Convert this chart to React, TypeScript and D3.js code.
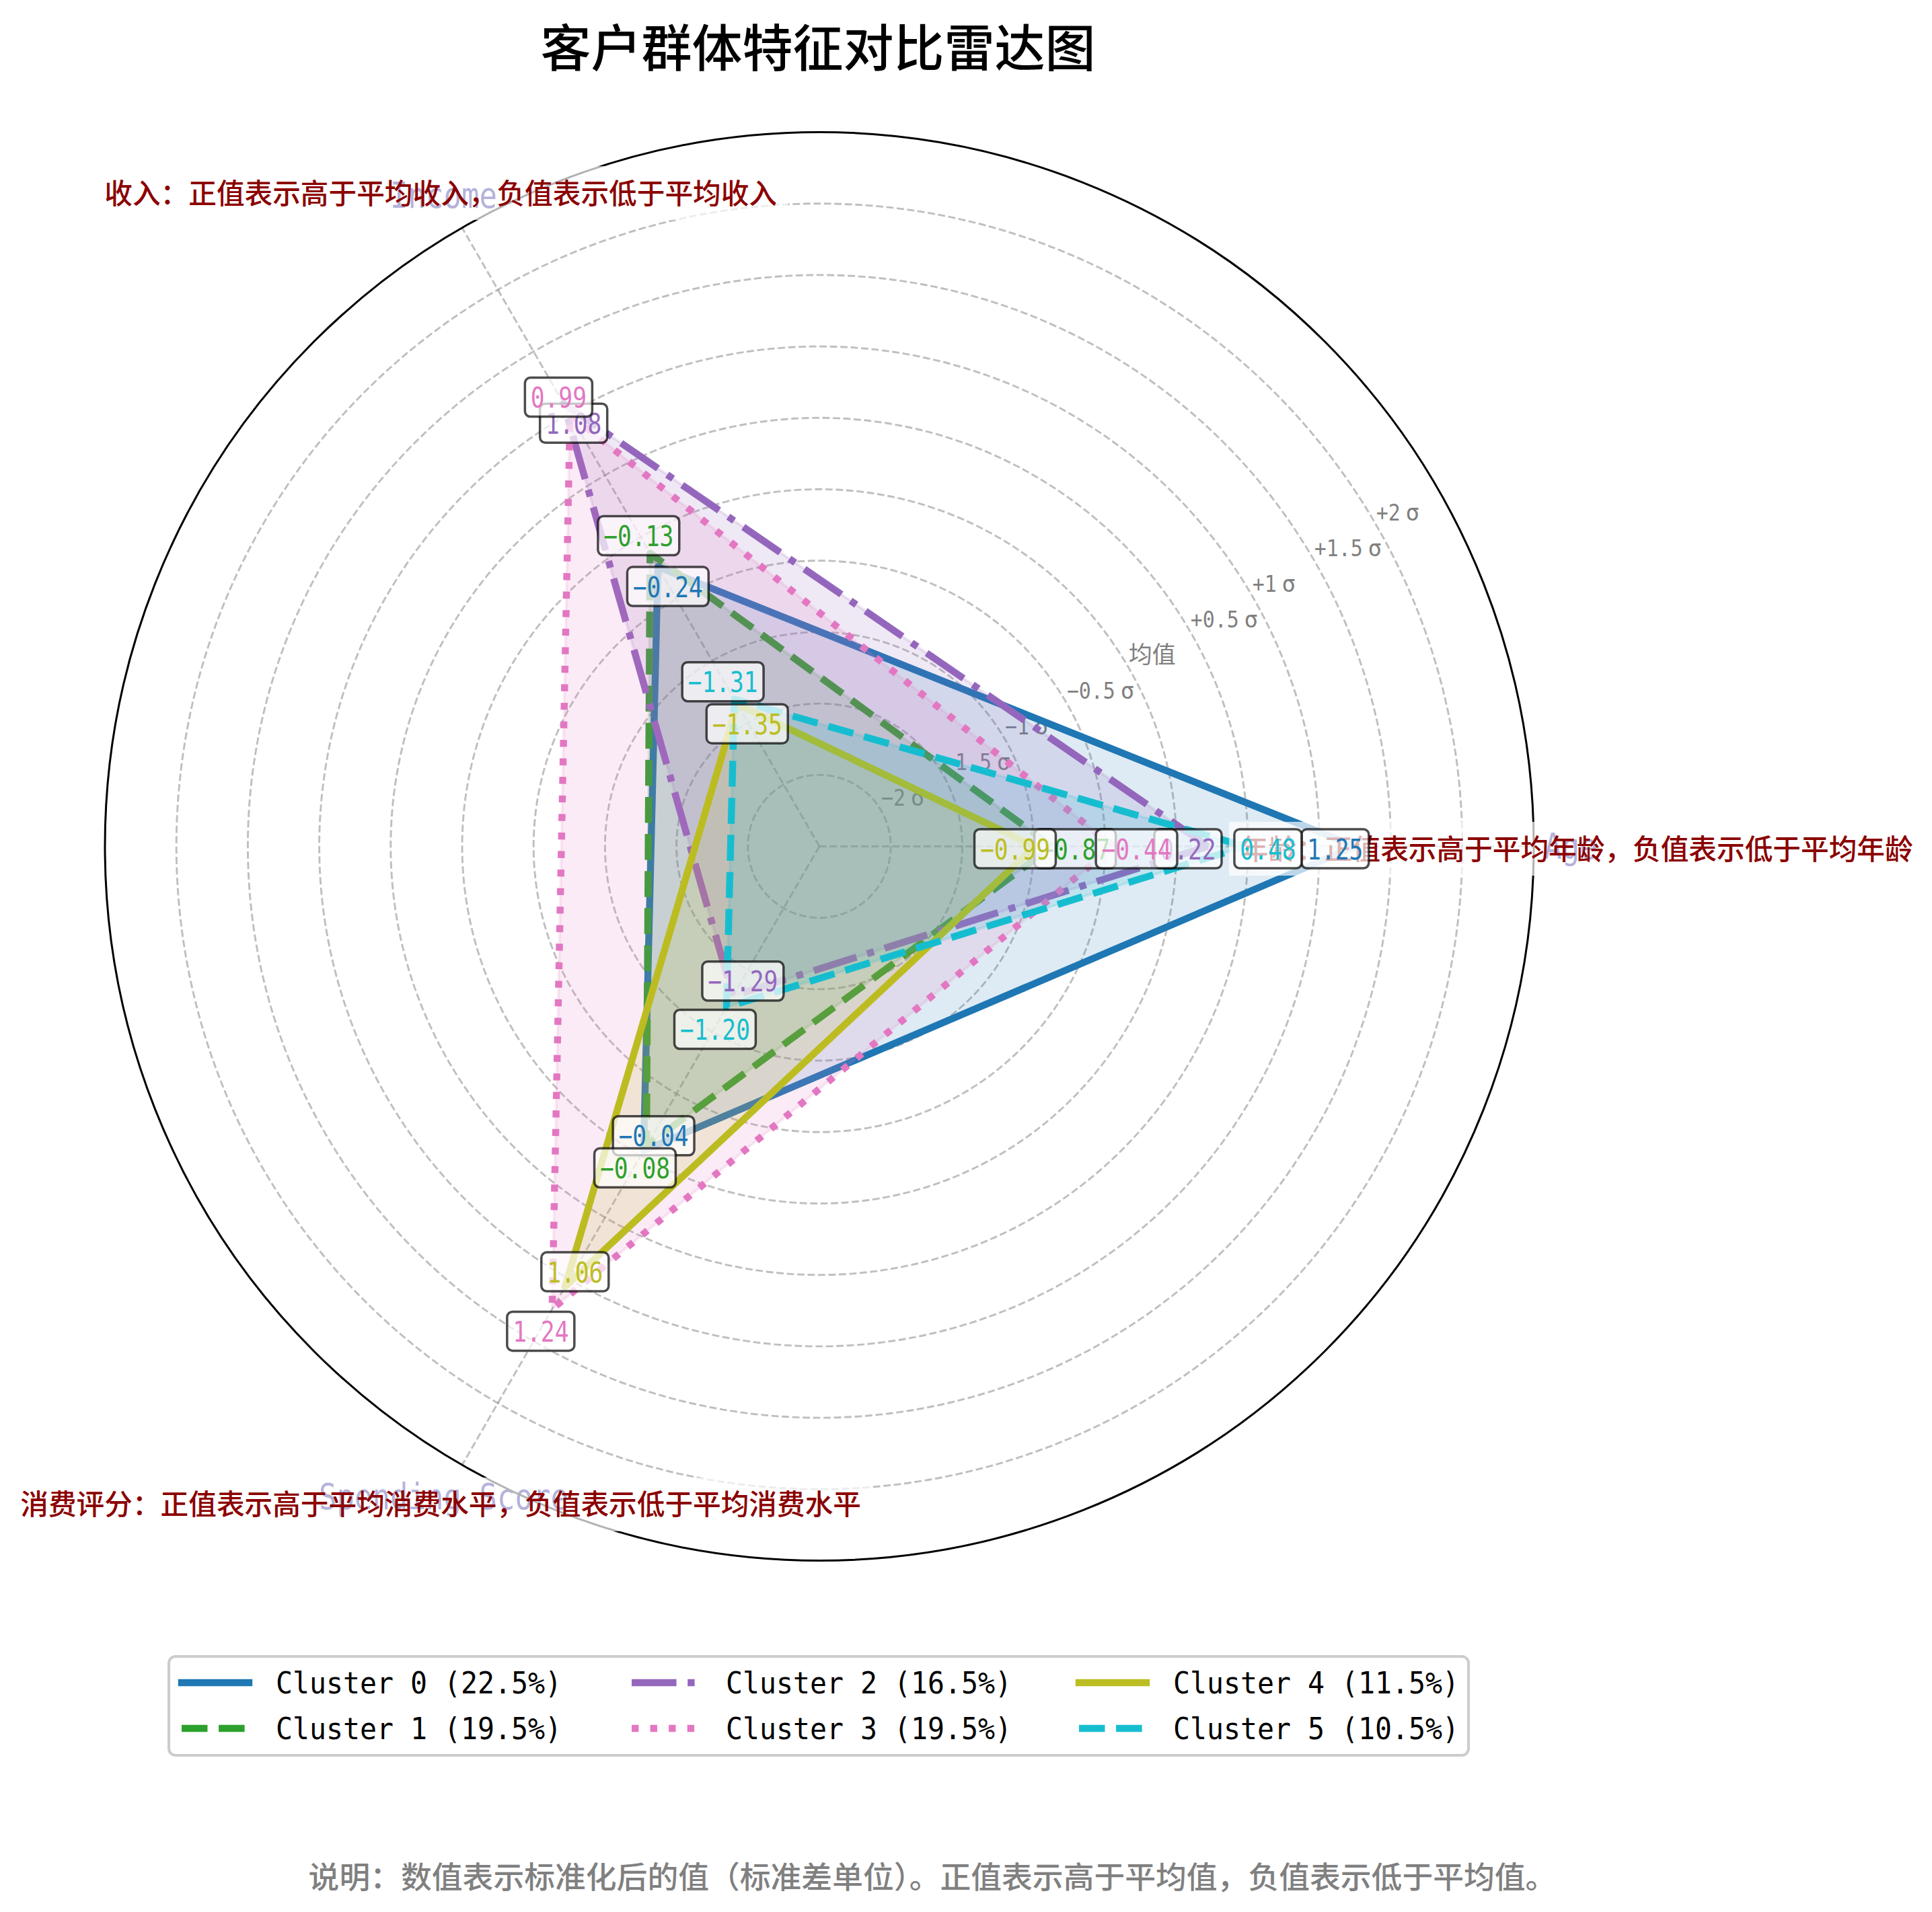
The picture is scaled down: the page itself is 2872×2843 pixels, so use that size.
import React from 'react';
import * as d3 from 'd3';

// ---------- data ----------
const categories = ['Age', 'Income', 'Spending Score'];
const categoryNotes = [
  '年龄：正值表示高于平均年龄，负值表示低于平均年龄',
  '收入：正值表示高于平均收入，负值表示低于平均收入',
  '消费评分：正值表示高于平均消费水平，负值表示低于平均消费水平',
];
const categoryAngles = [0, 120, 240];
const clusterNames = ['Cluster 0', 'Cluster 1', 'Cluster 2', 'Cluster 3', 'Cluster 4', 'Cluster 5'];
const clusterShares = [22.5, 19.5, 16.5, 19.5, 11.5, 10.5];
// values in order: Age, Income, Spending Score
const cluster0 = [1.25, -0.24, -0.04];
const cluster1 = [-0.87, -0.13, -0.08];
const cluster2 = [0.22, 1.08, -1.29];
const cluster3 = [-0.44, 0.99, 1.24];
const cluster4 = [-0.99, -1.35, 1.06];
const cluster5 = [0.48, -1.31, -1.2];
const clusterValues = [cluster0, cluster1, cluster2, cluster3, cluster4, cluster5];
const radialTicks = [-2, -1.5, -1, -0.5, 0, 0.5, 1, 1.5, 2];
const radialTickLabels = ['−2σ', '−1.5σ', '−1σ', '−0.5σ', '均值', '+0.5σ', '+1σ', '+1.5σ', '+2σ'];
const titleText = '客户群体特征对比雷达图';
const footerText = '说明：数值表示标准化后的值（标准差单位）。正值表示高于平均值，负值表示低于平均值。';

// ---------- style ----------
const W = 2872;
const H = 2843;
const CX = 1218;
const CY = 1258.5;
const R = 1062;
const COLORS = ['#1f77b4', '#2ca02c', '#9467bd', '#e377c2', '#bcbd22', '#17becf'];
const LW = 10.4;
const DASHES = [
  null,
  `${3.7 * LW} ${1.6 * LW}`,
  `${6.4 * LW} ${1.6 * LW} ${1 * LW} ${1.6 * LW}`,
  `${1 * LW} ${1.65 * LW}`,
  null,
  `${3.7 * LW} ${1.6 * LW}`,
];
const CJK = '"Noto Sans CJK SC", "Noto Sans CJK JP", sans-serif';
const MONO = '"DejaVu Sans Mono", "Liberation Mono", monospace';

const rScale = d3.scaleLinear().domain([-2.5, 2.5]).range([0, R]);

function pt(angleDeg: number, v: number): [number, number] {
  const r = rScale(v);
  const a = (angleDeg * Math.PI) / 180;
  return [CX + r * Math.cos(a), CY - r * Math.sin(a)];
}

function fmt(v: number) {
  const s = Math.abs(v).toFixed(2);
  return v < 0 ? '−' + s : s;
}

export default function App() {
  const line = d3.line();

  // grid
  const gridCircles = radialTicks.map((t, i) => (
    <circle key={'gc' + i} cx={CX} cy={CY} r={rScale(t)} fill="none"
      stroke="rgba(128,128,128,0.5)" strokeWidth={2.9} strokeDasharray="10.8 4.7" />
  ));
  const gridSpokes = categoryAngles.map((a, i) => {
    const [x, y] = pt(a, 2.5);
    return (
      <line key={'gs' + i} x1={CX} y1={CY} x2={x} y2={y}
        stroke="rgba(128,128,128,0.5)" strokeWidth={2.9} strokeDasharray="10.8 4.7" />
    );
  });

  // sigma tick labels
  const HALF = 18;
  const sigmaLabels = radialTicks.map((t, i) => {
    const r = rScale(t);
    const a = (30 * Math.PI) / 180;
    const x = CX + r * Math.cos(a);
    const y = CY - r * Math.sin(a) - 7;
    const lab = radialTickLabels[i];
    if (!lab.includes('σ')) {
      return (
        <text key={'sl' + i} x={x} y={y} fontFamily={CJK} fontSize={35} fill="#808080">{lab}</text>
      );
    }
    const num = lab.replace('σ', '');
    const n = num.length;
    return (
      <g key={'sl' + i} fill="#808080">
        <text x={x} y={y} fontFamily={MONO} fontSize={34} textLength={n * HALF} lengthAdjust="spacingAndGlyphs">{num}</text>
        <text x={x + n * HALF + HALF} y={y} fontFamily={MONO} fontSize={34} textAnchor="middle">σ</text>
      </g>
    );
  });

  // category tick labels (under annotation boxes)
  const catLabels = categories.map((c, i) => {
    const a = (categoryAngles[i] * Math.PI) / 180;
    const r = R + 55;
    const x = CX + r * Math.cos(a);
    const y = CY - r * Math.sin(a);
    return (
      <text key={'cl' + i} x={x} y={y + 18} textAnchor="middle" fontFamily={MONO} fontSize={54}
        fill="#00008b" textLength={c.length * 26.5} lengthAdjust="spacingAndGlyphs">{c}</text>
    );
  });

  // polygons
  const polys = clusterValues.map((vals, ci) => {
    const pts = vals.map((v, k) => pt(categoryAngles[k], v));
    const closed = [...pts, pts[0]];
    const dash = DASHES[ci];
    return (
      <g key={'p' + ci}>
        <path d={line(closed) || ''} fill="none" stroke={COLORS[ci]} strokeWidth={LW}
          strokeDasharray={dash || undefined} strokeLinejoin="round"
          strokeLinecap={dash ? 'butt' : 'square'} />
        <path d={(line(pts) || '') + 'Z'} fill={COLORS[ci]} fillOpacity={0.15}
          stroke={COLORS[ci]} strokeOpacity={0.15} strokeWidth={4.2} strokeLinejoin="round" />
      </g>
    );
  });

  // annotations
  const NOTE_FS = 41.67;
  const notes = categoryNotes.map((t, i) => {
    const [x, y0] = pt(categoryAngles[i], 2.8);
    const y = y0 + 3.5;
    const w = t.length * NOTE_FS + 33;
    const h = 80;
    return (
      <g key={'n' + i}>
        <rect x={x - w / 2} y={y - h / 2} width={w} height={h} fill="white" fillOpacity={0.7} />
        <text x={x} y={y + 15.5} textAnchor="middle" fontFamily={CJK} fontWeight={500} fontSize={NOTE_FS} fill="#8b0000">{t}</text>
      </g>
    );
  });

  // value labels
  const VFS = 42.5;
  const VHALF = 20.83;
  const valueLabels = clusterValues.map((vals, ci) => (
    <g key={'vl' + ci}>
      {vals.map((v, k) => {
        const off = ci % 2 === 1 ? 0.16 : -0.14;
        const [x, y0] = pt(categoryAngles[k], v + off);
        const y = y0 + 3.5;
        const s = fmt(v);
        const tw = s.length * VHALF;
        const w = tw + 16.7;
        const h = 58;
        return (
          <g key={k}>
            <rect x={x - w / 2} y={y - h / 2} width={w} height={h} rx={8} ry={8}
              fill="white" fillOpacity={0.7} stroke="black" strokeOpacity={0.7} strokeWidth={3.5} />
            <text x={x - tw / 2} y={y + 15.5} fontFamily={MONO} fontSize={VFS} fill={COLORS[ci]}
              textLength={tw} lengthAdjust="spacingAndGlyphs">{s}</text>
          </g>
        );
      })}
    </g>
  ));

  // legend
  const colX = [270, 939, 1604];
  const rowY = [2502, 2570];
  const legendItems = clusterNames.map((name, ci) => {
    const col = Math.floor(ci / 2);
    const row = ci % 2;
    const x0 = colX[col];
    const y = rowY[row];
    const dash = DASHES[ci];
    const label = `${name} (${clusterShares[ci].toFixed(1)}%)`;
    return (
      <g key={'lg' + ci}>
        <line x1={x0} y1={y} x2={x0 + 100} y2={y} stroke={COLORS[ci]} strokeWidth={LW}
          strokeDasharray={dash || undefined} strokeLinecap={dash ? 'butt' : 'square'} />
        <text x={x0 + 140} y={y + 16} fontFamily={MONO} fontSize={45} fill="black"
          textLength={label.length * 25} lengthAdjust="spacingAndGlyphs">{label}</text>
      </g>
    );
  });

  return (
    <svg width={W} height={H} viewBox={`0 0 ${W} ${H}`} xmlns="http://www.w3.org/2000/svg"
      style={{ position: 'absolute', left: 0, top: 0, background: 'white' }}>
      <rect x={0} y={0} width={W} height={H} fill="white" />
      <text x={1216} y={99} textAnchor="middle" fontFamily={CJK} fontWeight={500} fontSize={75} fill="black">{titleText}</text>
      {gridCircles}
      {gridSpokes}
      {sigmaLabels}
      {catLabels}
      {polys}
      <circle cx={CX} cy={CY} r={R} fill="none" stroke="black" strokeWidth={3} />
      {notes}
      {valueLabels}
      <rect x={251} y={2463} width={1932} height={147} rx={10} ry={10} fill="white" fillOpacity={0.8}
        stroke="#cccccc" strokeWidth={4} />
      {legendItems}
      <text x={1386} y={2808} textAnchor="middle" fontFamily={CJK} fontWeight={500} fontSize={45.8} fill="#808080">{footerText}</text>
    </svg>
  );
}
